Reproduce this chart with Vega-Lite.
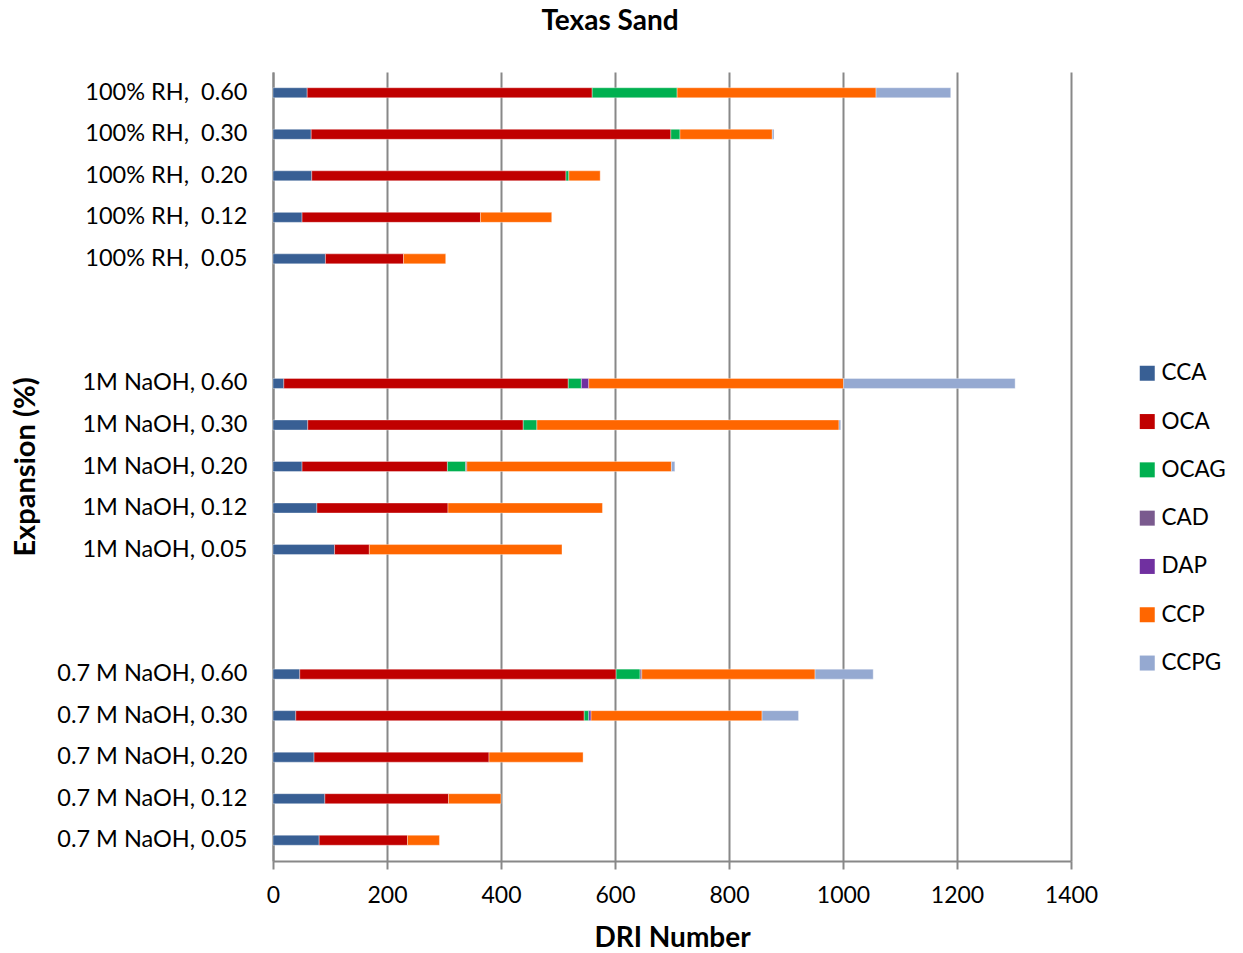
{
  "$schema": "https://vega.github.io/schema/vega-lite/v6.json",
  "width": 798,
  "height": 789,
  "autosize": {"type": "none"},
  "padding": {"left": 273, "top": 72, "right": 172, "bottom": 92},
  "background": "white",
  "title": {"text": "Texas Sand", "font": "Lato", "fontSize": 28, "fontWeight": "bold", "color": "#000000", "anchor": "middle", "frame": "group", "dx": -62, "offset": 36},
  "config": {"view": {"stroke": null}, "font": "Lato"},
  "data": {"values": [
    {"cond": "100% RH,\u00a0 0.60", "comp": "CCA", "o": 1, "v": 60},
    {"cond": "100% RH,\u00a0 0.60", "comp": "OCA", "o": 2, "v": 500},
    {"cond": "100% RH,\u00a0 0.60", "comp": "OCAG", "o": 3, "v": 149},
    {"cond": "100% RH,\u00a0 0.60", "comp": "CCP", "o": 6, "v": 349},
    {"cond": "100% RH,\u00a0 0.60", "comp": "CCPG", "o": 7, "v": 131},
    {"cond": "100% RH,\u00a0 0.30", "comp": "CCA", "o": 1, "v": 67},
    {"cond": "100% RH,\u00a0 0.30", "comp": "OCA", "o": 2, "v": 631},
    {"cond": "100% RH,\u00a0 0.30", "comp": "OCAG", "o": 3, "v": 16},
    {"cond": "100% RH,\u00a0 0.30", "comp": "CCP", "o": 6, "v": 162},
    {"cond": "100% RH,\u00a0 0.30", "comp": "CCPG", "o": 7, "v": 3},
    {"cond": "100% RH,\u00a0 0.20", "comp": "CCA", "o": 1, "v": 68},
    {"cond": "100% RH,\u00a0 0.20", "comp": "OCA", "o": 2, "v": 446},
    {"cond": "100% RH,\u00a0 0.20", "comp": "OCAG", "o": 3, "v": 5},
    {"cond": "100% RH,\u00a0 0.20", "comp": "CCP", "o": 6, "v": 55},
    {"cond": "100% RH,\u00a0 0.12", "comp": "CCA", "o": 1, "v": 51},
    {"cond": "100% RH,\u00a0 0.12", "comp": "OCA", "o": 2, "v": 313},
    {"cond": "100% RH,\u00a0 0.12", "comp": "CCP", "o": 6, "v": 125},
    {"cond": "100% RH,\u00a0 0.05", "comp": "CCA", "o": 1, "v": 92},
    {"cond": "100% RH,\u00a0 0.05", "comp": "OCA", "o": 2, "v": 137},
    {"cond": "100% RH,\u00a0 0.05", "comp": "CCP", "o": 6, "v": 74},
    {"cond": "1M NaOH, 0.60", "comp": "CCA", "o": 1, "v": 19},
    {"cond": "1M NaOH, 0.60", "comp": "OCA", "o": 2, "v": 499},
    {"cond": "1M NaOH, 0.60", "comp": "OCAG", "o": 3, "v": 23},
    {"cond": "1M NaOH, 0.60", "comp": "DAP", "o": 5, "v": 13},
    {"cond": "1M NaOH, 0.60", "comp": "CCP", "o": 6, "v": 447},
    {"cond": "1M NaOH, 0.60", "comp": "CCPG", "o": 7, "v": 301},
    {"cond": "1M NaOH, 0.30", "comp": "CCA", "o": 1, "v": 61},
    {"cond": "1M NaOH, 0.30", "comp": "OCA", "o": 2, "v": 378},
    {"cond": "1M NaOH, 0.30", "comp": "OCAG", "o": 3, "v": 24},
    {"cond": "1M NaOH, 0.30", "comp": "CCP", "o": 6, "v": 530},
    {"cond": "1M NaOH, 0.30", "comp": "CCPG", "o": 7, "v": 3},
    {"cond": "1M NaOH, 0.20", "comp": "CCA", "o": 1, "v": 51},
    {"cond": "1M NaOH, 0.20", "comp": "OCA", "o": 2, "v": 255},
    {"cond": "1M NaOH, 0.20", "comp": "OCAG", "o": 3, "v": 32},
    {"cond": "1M NaOH, 0.20", "comp": "CAD", "o": 4, "v": 2},
    {"cond": "1M NaOH, 0.20", "comp": "CCP", "o": 6, "v": 359},
    {"cond": "1M NaOH, 0.20", "comp": "CCPG", "o": 7, "v": 6},
    {"cond": "1M NaOH, 0.12", "comp": "CCA", "o": 1, "v": 77},
    {"cond": "1M NaOH, 0.12", "comp": "OCA", "o": 2, "v": 230},
    {"cond": "1M NaOH, 0.12", "comp": "CCP", "o": 6, "v": 271},
    {"cond": "1M NaOH, 0.05", "comp": "CCA", "o": 1, "v": 108},
    {"cond": "1M NaOH, 0.05", "comp": "OCA", "o": 2, "v": 61},
    {"cond": "1M NaOH, 0.05", "comp": "CCP", "o": 6, "v": 338},
    {"cond": "0.7 M NaOH, 0.60", "comp": "CCA", "o": 1, "v": 47},
    {"cond": "0.7 M NaOH, 0.60", "comp": "OCA", "o": 2, "v": 555},
    {"cond": "0.7 M NaOH, 0.60", "comp": "OCAG", "o": 3, "v": 42},
    {"cond": "0.7 M NaOH, 0.60", "comp": "CAD", "o": 4, "v": 3},
    {"cond": "0.7 M NaOH, 0.60", "comp": "CCP", "o": 6, "v": 304},
    {"cond": "0.7 M NaOH, 0.60", "comp": "CCPG", "o": 7, "v": 102},
    {"cond": "0.7 M NaOH, 0.30", "comp": "CCA", "o": 1, "v": 40},
    {"cond": "0.7 M NaOH, 0.30", "comp": "OCA", "o": 2, "v": 506},
    {"cond": "0.7 M NaOH, 0.30", "comp": "OCAG", "o": 3, "v": 8},
    {"cond": "0.7 M NaOH, 0.30", "comp": "DAP", "o": 5, "v": 4},
    {"cond": "0.7 M NaOH, 0.30", "comp": "CCP", "o": 6, "v": 300},
    {"cond": "0.7 M NaOH, 0.30", "comp": "CCPG", "o": 7, "v": 64},
    {"cond": "0.7 M NaOH, 0.20", "comp": "CCA", "o": 1, "v": 72},
    {"cond": "0.7 M NaOH, 0.20", "comp": "OCA", "o": 2, "v": 307},
    {"cond": "0.7 M NaOH, 0.20", "comp": "CCP", "o": 6, "v": 165},
    {"cond": "0.7 M NaOH, 0.12", "comp": "CCA", "o": 1, "v": 91},
    {"cond": "0.7 M NaOH, 0.12", "comp": "OCA", "o": 2, "v": 217},
    {"cond": "0.7 M NaOH, 0.12", "comp": "CCP", "o": 6, "v": 92},
    {"cond": "0.7 M NaOH, 0.05", "comp": "CCA", "o": 1, "v": 81},
    {"cond": "0.7 M NaOH, 0.05", "comp": "OCA", "o": 2, "v": 155},
    {"cond": "0.7 M NaOH, 0.05", "comp": "CCP", "o": 6, "v": 56}
  ]},
  "mark": {"type": "bar", "size": 10, "stroke": "#ffffff", "strokeWidth": 0.6, "strokeOpacity": 0.6},
  "encoding": {
    "y": {
      "field": "cond",
      "type": "nominal",
      "scale": {
        "domain": ["100% RH,\u00a0 0.60", "100% RH,\u00a0 0.30", "100% RH,\u00a0 0.20", "100% RH,\u00a0 0.12", "100% RH,\u00a0 0.05", "gap1", "gap2", "1M NaOH, 0.60", "1M NaOH, 0.30", "1M NaOH, 0.20", "1M NaOH, 0.12", "1M NaOH, 0.05", "gap3", "gap4", "0.7 M NaOH, 0.60", "0.7 M NaOH, 0.30", "0.7 M NaOH, 0.20", "0.7 M NaOH, 0.12", "0.7 M NaOH, 0.05"],
        "paddingInner": 0, "paddingOuter": 0
      },
      "axis": {
        "title": "Expansion (%)",
        "titleFont": "Lato", "titleFontSize": 29, "titleFontWeight": "bold", "titleColor": "#000000",
        "titleAngle": 270, "titleAlign": "center", "titleBaseline": "middle",
        "titleX": -248, "titleY": 394.5,
        "labelExpr": "indexof(datum.label, 'gap') == 0 ? '' : datum.label",
        "labelFont": "Lato", "labelFontSize": 23.5, "labelColor": "#000000", "labelPadding": 26, "labelLimit": 0,
        "ticks": false, "domainColor": "#888888", "domainWidth": 2, "grid": false
      }
    },
    "x": {
      "field": "v",
      "type": "quantitative",
      "stack": "zero",
      "scale": {"domain": [0, 1400], "nice": false},
      "axis": {
        "values": [0, 200, 400, 600, 800, 1000, 1200, 1400],
        "format": "d",
        "labelFlush": false,
        "title": "DRI Number",
        "titleFont": "Lato", "titleFontSize": 28, "titleFontWeight": "bold", "titleColor": "#000000", "titlePadding": 17,
        "labelFont": "Lato", "labelFontSize": 23, "labelColor": "#000000", "labelPadding": 15,
        "tickColor": "#888888", "tickSize": 8, "tickWidth": 2,
        "domainColor": "#888888", "domainWidth": 2,
        "grid": true, "gridColor": "#888888", "gridWidth": 2
      }
    },
    "color": {
      "field": "comp",
      "type": "nominal",
      "scale": {
        "domain": ["CCA", "OCA", "OCAG", "CAD", "DAP", "CCP", "CCPG"],
        "range": ["#385F94", "#C00000", "#00B050", "#7A5A8E", "#7030A0", "#FF6600", "#95A9D1"]
      },
      "legend": {
        "title": null, "orient": "none", "legendX": 863, "legendY": 290,
        "symbolType": "square", "symbolSize": 225, "symbolStrokeWidth": 0,
        "labelFont": "Lato", "labelFontSize": 22.5, "labelColor": "#000000",
        "rowPadding": 25.3, "labelOffset": 3
      }
    },
    "order": {"field": "o", "type": "quantitative"}
  }
}
